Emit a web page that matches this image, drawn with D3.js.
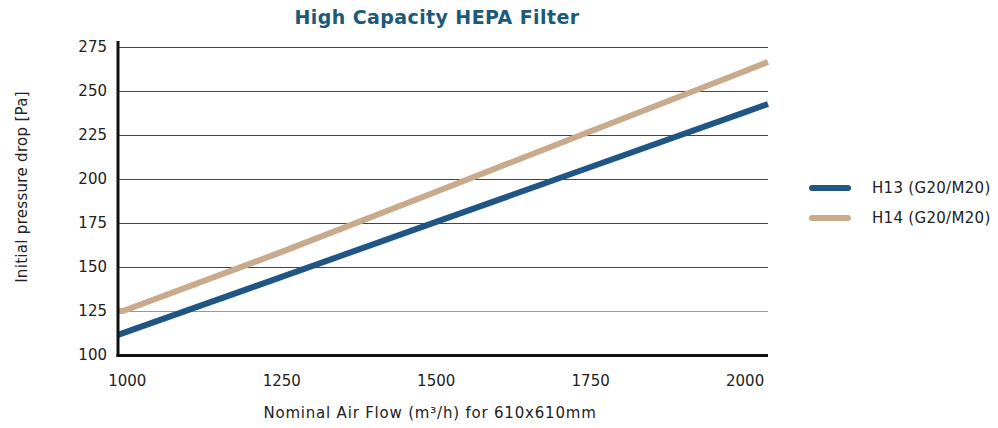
<!DOCTYPE html>
<html>
<head>
<meta charset="utf-8">
<script src="https://cdn.jsdelivr.net/npm/d3@7"></script>
<style>
  body { margin: 0; background: #fff; }
  svg text { font-family: "DejaVu Sans", sans-serif; }
</style>
</head>
<body>
<div id="chart"></div>
<script>
const flowRates = [985, 993, 1250, 1500, 1750, 2000, 2037]
const h13Values = [111.4, 112.4, 144.4, 175.6, 206.8, 238.0, 242.6]
const h14Values = [125, 125, 158.6, 192.8, 227.1, 261.4, 266.5]
const seriesNames = ['H13 (G20/M20)', 'H14 (G20/M20)']
const yTicks = [100, 125, 150, 175, 200, 225, 250, 275]
const xTicks = [1000, 1250, 1500, 1750, 2000]

const width = 998, height = 428
const margin = {top: 42, left: 118, right: 230, bottom: 73}
const colors = ['#1f5685', '#c8ab8c']

const svg = d3.select('#chart').append('svg')
    .attr('width', width)
    .attr('height', height)

const x = d3.scaleLinear()
    .domain([985, 2037])
    .range([margin.left, width - margin.right])

const y = d3.scaleLinear()
    .domain([100, 275])
    .range([355, 47])

// gridlines
svg.append('g')
    .selectAll('line')
    .data(yTicks.filter(d => d > 100))
    .enter().append('line')
    .attr('x1', margin.left)
    .attr('x2', width - margin.right)
    .attr('y1', d => Math.round(y(d)) + 0.5)
    .attr('y2', d => Math.round(y(d)) + 0.5)
    .style('stroke', d => d === 125 ? '#999' : '#444')
    .style('stroke-width', 1)

// y tick labels
svg.append('g')
    .selectAll('text')
    .data(yTicks)
    .enter().append('text')
    .attr('x', 107)
    .attr('y', d => y(d))
    .attr('dy', '0.35em')
    .attr('text-anchor', 'end')
    .style('font-size', '15px')
    .style('fill', '#222')
    .text(d => d)

// x tick labels
svg.append('g')
    .selectAll('text')
    .data(xTicks)
    .enter().append('text')
    .attr('x', d => x(d))
    .attr('y', 386)
    .attr('text-anchor', 'middle')
    .style('font-size', '15px')
    .style('fill', '#222')
    .text(d => d)

// lines
const line = d3.line()
    .x(d => x(d[0]))
    .y(d => y(d[1]))

const series = [h13Values, h14Values]
series.forEach((vals, i) => {
    svg.append('path')
        .datum(flowRates.map((f, j) => [f, vals[j]]))
        .attr('d', line)
        .style('fill', 'none')
        .style('stroke', colors[i])
        .style('stroke-width', 6)
})

// axes
svg.append('line')
    .attr('x1', margin.left).attr('x2', margin.left)
    .attr('y1', 41).attr('y2', 357)
    .style('stroke', '#111').style('stroke-width', 3)
svg.append('line')
    .attr('x1', margin.left - 1.5).attr('x2', width - margin.right)
    .attr('y1', 355.5).attr('y2', 355.5)
    .style('stroke', '#111').style('stroke-width', 3)

// title
svg.append('text')
    .attr('x', 437)
    .attr('y', 24)
    .attr('text-anchor', 'middle')
    .style('font-size', '19px')
    .style('font-weight', 'bold')
    .style('letter-spacing', '0.4px')
    .style('fill', '#1b5a78')
    .text('High Capacity HEPA Filter')

// axis titles
svg.append('text')
    .attr('x', 430)
    .attr('y', 418)
    .attr('text-anchor', 'middle')
    .style('font-size', '15px')
    .style('letter-spacing', '0.8px')
    .style('fill', '#222')
    .text('Nominal Air Flow (m³/h) for 610x610mm')

svg.append('text')
    .attr('transform', 'translate(27,187) rotate(-90)')
    .attr('text-anchor', 'middle')
    .style('font-size', '15px')
    .style('letter-spacing', '0.3px')
    .style('fill', '#222')
    .text('Initial pressure drop [Pa]')

// legend
const legend = svg.append('g')
    .selectAll('g')
    .data(seriesNames)
    .enter().append('g')
    .attr('transform', (d, i) => `translate(812, ${188 + i * 30})`)
legend.append('line')
    .attr('x1', 0).attr('x2', 36)
    .style('stroke', (d, i) => colors[i])
    .style('stroke-width', 6)
    .style('stroke-linecap', 'round')
legend.append('text')
    .attr('x', 60)
    .attr('dy', '0.35em')
    .style('font-size', '15px')
    .style('letter-spacing', '0.3px')
    .style('fill', '#222')
    .text(d => d)
</script>
</body>
</html>
